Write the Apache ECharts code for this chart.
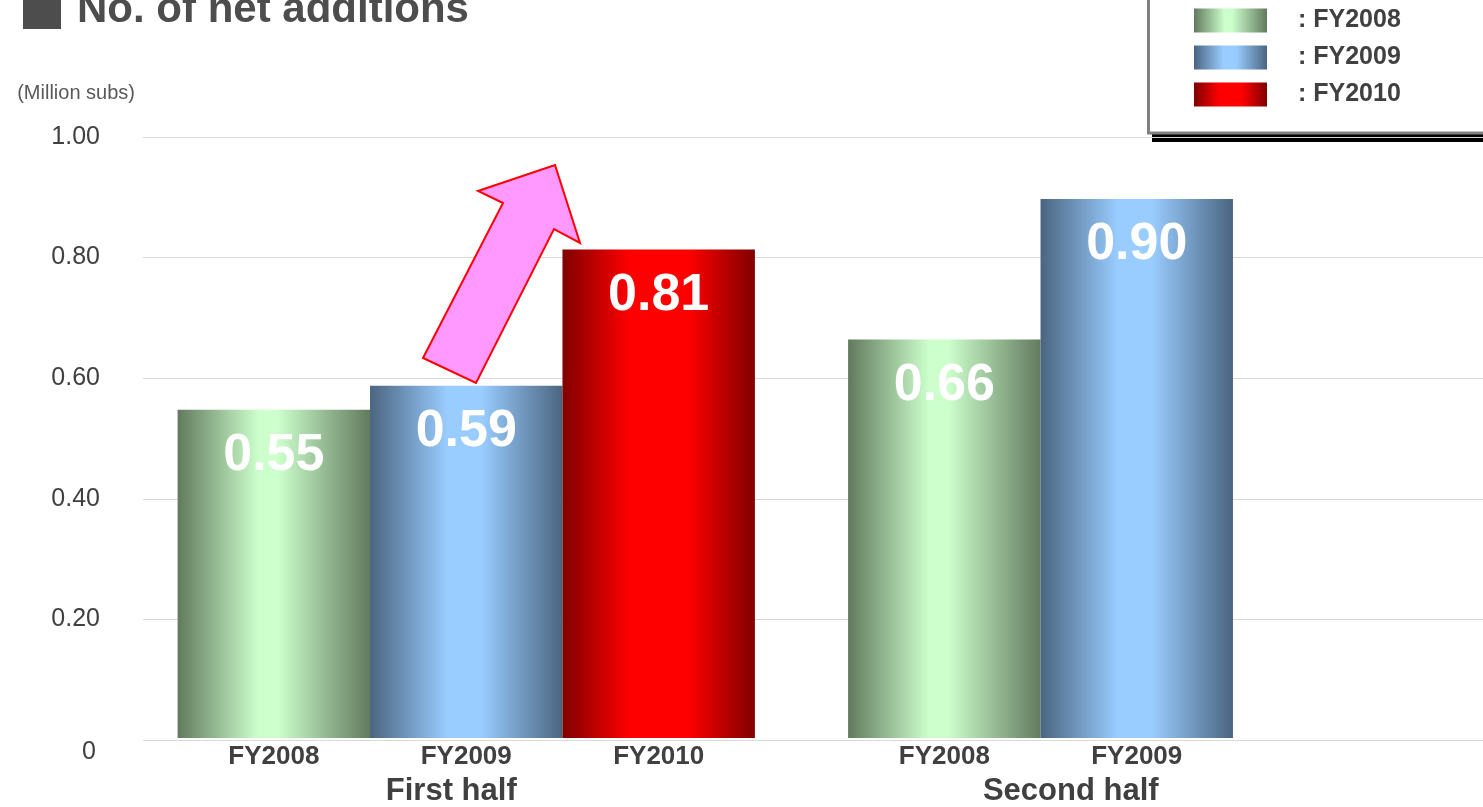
<!DOCTYPE html>
<html>
<head>
<meta charset="utf-8">
<script src="https://cdn.jsdelivr.net/npm/echarts@6/dist/echarts.min.js"></script>
<style>
    html, body { margin: 0; padding: 0; background: #fff; }
    #main { width: 1483px; height: 807px; }
</style>
</head>
<body>
<div id="main"></div>
<script>
(function () {
    var FONT = '"Liberation Sans", Arial, sans-serif';

    // 数据
    var halves = ['First half', 'Second half'];
    var years = ['FY2008', 'FY2009', 'FY2010'];
    var fy2008 = [0.546, 0.663];
    var fy2009 = [0.586, 0.897];
    var fy2010 = [0.813, null];
    var values = [fy2008, fy2009, fy2010];

    // 渐变色：边缘深，中间亮
    function grad(edge, mid, a, b) {
        return new echarts.graphic.LinearGradient(0, 0, 1, 0, [
            {offset: 0, color: edge},
            {offset: a, color: mid},
            {offset: b, color: mid},
            {offset: 1, color: edge}
        ]);
    }
    var colors = [
        grad('#627a5e', '#ccffcc', 0.42, 0.52),
        grad('#4a6580', '#99ccff', 0.40, 0.58),
        grad('#800000', '#ff0000', 0.35, 0.65)
    ];

    var chart = echarts.init(document.getElementById('main'));

    var series = [];
    // 柱子 + 数值
    years.forEach(function (y, i) {
        series.push({
            name: y,
            type: 'bar',
            xAxisIndex: 1,
            yAxisIndex: 1,
            data: values[i],
            barGap: '0%',
            barCategoryGap: '13.9%',
            itemStyle: {color: colors[i]},
            label: {
                show: true,
                position: 'insideTop',
                distance: 20,
                color: '#fff',
                fontFamily: FONT,
                fontSize: 52,
                fontWeight: 'bold',
                formatter: function (p) {
                    return p.value == null ? '' : p.value.toFixed(2);
                }
            },
            z: 2
        });
    });
    // 柱子下方的年度名称（透明柱，只用来放标签）
    years.forEach(function (y, i) {
        series.push({
            name: 'lbl-' + y,
            type: 'bar',
            xAxisIndex: 2,
            yAxisIndex: 1,
            data: values[i],
            barGap: '0%',
            barCategoryGap: '13.9%',
            silent: true,
            itemStyle: {color: 'rgba(0,0,0,0)'},
            label: {
                show: true,
                position: 'bottom',
                distance: 6,
                color: '#404040',
                fontFamily: FONT,
                fontSize: 26,
                fontWeight: 'bold',
                formatter: y
            },
            z: 3
        });
    });

    var option = {
        animation: false,
        backgroundColor: '#fff',
        title: {
            left: 18,
            top: -16,
            text: '{sq|}{t|No. of net additions}',
            textStyle: {
                rich: {
                    sq: {width: 38, height: 38, backgroundColor: '#4d4d4d'},
                    t: {fontSize: 42, fontWeight: 'bold', color: '#4d4d4d', fontFamily: FONT, padding: [0, 0, 0, 16]}
                }
            }
        },
        legend: {
            orient: 'vertical',
            left: 1147,
            top: -20,
            padding: [28, 200, 25, 47],
            itemWidth: 73,
            itemHeight: 24,
            itemGap: 12,
            icon: 'rect',
            selectedMode: false,
            formatter: ': {name}',
            textStyle: {
                color: '#404040',
                fontFamily: FONT,
                fontSize: 25,
                fontWeight: 'bold',
                padding: [0, 0, 0, 26]
            },
            data: years
        },
        grid: [
            {left: 143, right: 0, top: 137, bottom: 67},
            {left: 131, right: 11, top: 137, bottom: 67}
        ],
        xAxis: [
            {gridIndex: 0, type: 'value', show: false},
            {
                gridIndex: 1,
                type: 'category',
                data: halves,
                axisLine: {show: false},
                axisTick: {show: false},
                axisLabel: {
                    margin: 38,
                    formatter: function (v, i) {
                        return i === 0 ? '{a|' + v + '}' : '{b|' + v + '}';
                    },
                    rich: {
                        a: {fontSize: 31, fontWeight: 'bold', color: '#404040', fontFamily: FONT, padding: [0, 30, 0, 0]},
                        b: {fontSize: 31, fontWeight: 'bold', color: '#404040', fontFamily: FONT, padding: [0, 132, 0, 0]}
                    }
                }
            },
            {gridIndex: 1, type: 'category', data: halves, show: false}
        ],
        yAxis: [
            {
                gridIndex: 0,
                type: 'value',
                min: 0,
                max: 1,
                interval: 0.2,
                name: '(Million subs)',
                nameLocation: 'end',
                nameGap: 34,
                nameTextStyle: {
                    color: '#595959',
                    fontFamily: FONT,
                    fontSize: 20,
                    align: 'right',
                    padding: [0, 8, 0, 0]
                },
                axisLine: {show: false},
                axisTick: {show: false},
                axisLabel: {
                    margin: 43,
                    color: '#404040',
                    fontFamily: FONT,
                    fontSize: 25,
                    formatter: function (v) {
                        return v === 0 ? '{z|0}' : v.toFixed(2);
                    },
                    rich: {
                        z: {fontSize: 25, color: '#404040', fontFamily: FONT, padding: [24, 4, 0, 0]}
                    }
                },
                splitLine: {lineStyle: {color: '#d9d9d9', width: 1}}
            },
            {gridIndex: 1, type: 'value', min: 0, max: 1, show: false, splitLine: {show: false}}
        ],
        graphic: [
            // 图例框：黑色阴影 + 灰色边框
            {type: 'rect', z: 0, shape: {x: 1152, y: -10, width: 400, height: 152}, style: {fill: '#000'}},
            {type: 'rect', z: 1, shape: {x: 1148.5, y: -10, width: 400, height: 143}, style: {fill: '#fff', stroke: '#808080', lineWidth: 3}},
            // 上升箭头
            {
                type: 'polygon',
                z: 100,
                shape: {
                    points: [[423, 358], [503, 203], [478, 191], [555, 165], [580, 243], [554, 229], [476, 383]]
                },
                style: {fill: '#ff99ff', stroke: '#ff0000', lineWidth: 2}
            }
        ],
        series: series
    };

    chart.setOption(option);
})();
</script>
</body>
</html>
